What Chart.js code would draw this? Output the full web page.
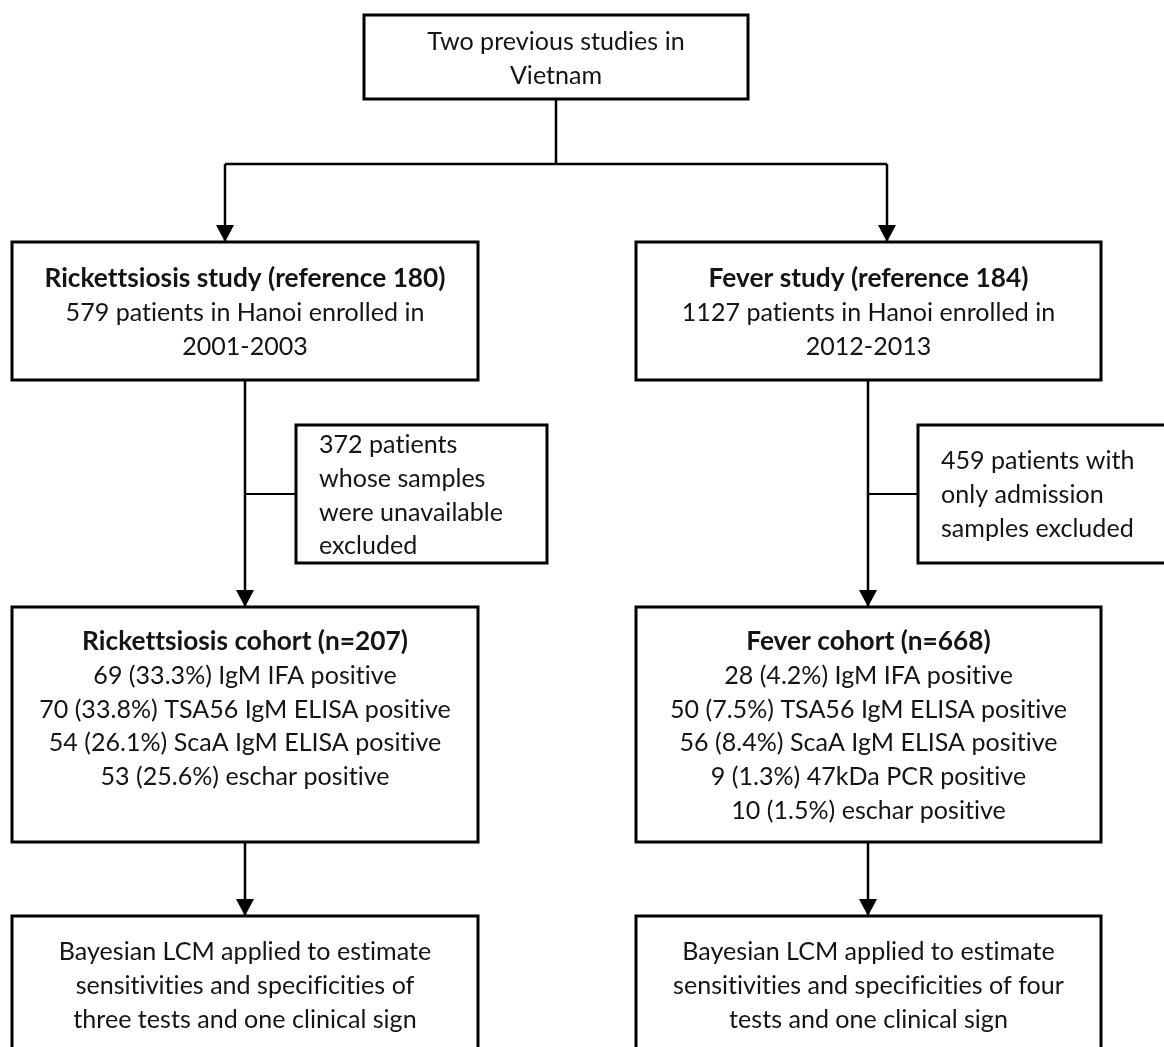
<!DOCTYPE html>
<html>
<head>
<meta charset="utf-8">
<script src="https://cdn.jsdelivr.net/npm/chart.js@4.4.1/dist/chart.umd.min.js"></script>
<style>
  html, body { margin: 0; padding: 0; background: #ffffff; }
  #wrap { width: 1164px; height: 1047px; position: relative; }
</style>
</head>
<body>
<div id="wrap"><canvas id="c" width="1164" height="1047"></canvas></div>
<script>
// ---------------- DATA (flowchart content) ----------------
const boxHeadings = [
  '',
  'Rickettsiosis study (reference 180)',
  'Fever study (reference 184)',
  '',
  '',
  'Rickettsiosis cohort (n=207)',
  'Fever cohort (n=668)',
  '',
  ''
];
const boxBodies = [
  ['Two previous studies in', 'Vietnam'],
  ['579 patients in Hanoi enrolled in', '2001-2003'],
  ['1127 patients in Hanoi enrolled in', '2012-2013'],
  ['372 patients', 'whose samples', 'were unavailable', 'excluded'],
  ['459 patients with', 'only admission', 'samples excluded'],
  ['69 (33.3%) IgM IFA positive', '70 (33.8%) TSA56 IgM ELISA positive', '54 (26.1%) ScaA IgM ELISA positive', '53 (25.6%) eschar positive'],
  ['28 (4.2%) IgM IFA positive', '50 (7.5%) TSA56 IgM ELISA positive', '56 (8.4%) ScaA IgM ELISA positive', '9 (1.3%) 47kDa PCR positive', '10 (1.5%) eschar positive'],
  ['Bayesian LCM applied to estimate', 'sensitivities and specificities of', 'three tests and one clinical sign'],
  ['Bayesian LCM applied to estimate', 'sensitivities and specificities of four', 'tests and one clinical sign']
];

// ---------------- LAYOUT (diagram geometry, in axis units) ----------------
const boxLeft   = [364, 12, 636, 296, 918, 12, 636, 12, 636];
const boxRight  = [748, 478, 1101, 547, 1180, 478, 1101, 478, 1101];
const boxTop    = [15, 242, 242, 425, 425, 607, 607, 916, 916];
const boxBottom = [99, 380, 380, 563, 563, 842, 842, 1070, 1070];
const textAlign = ['center', 'center', 'center', 'left', 'left', 'center', 'center', 'center', 'center'];
const firstLineOffset = [27, 37, 37, 20, 36, 35, 35, 36, 36];
const lineGap = 33.8;
const textIndent = 23;

// connectors: segments [x0,y0]->[x1,y1], arrow flag, width
const connX0 = [556, 225, 225, 887, 245, 245, 868, 868, 245, 868];
const connY0 = [99, 164, 164, 164, 380, 494, 380, 494, 842, 842];
const connX1 = [556, 887, 225, 887, 245, 296, 868, 918, 245, 868];
const connY1 = [164, 164, 242, 242, 607, 494, 607, 494, 916, 916];
const connArrow = [false, false, true, true, true, false, true, false, true, true];
const connWidth = [2.5, 2.5, 2.5, 2.5, 2.5, 2, 2.5, 2, 2.5, 2.5];

// ---------------- BUILD DATASETS ----------------
const datasets = [];
for (let i = 0; i < boxLeft.length; i++) {
  datasets.push({
    data: [
      {x: boxLeft[i], y: boxTop[i]},
      {x: boxRight[i], y: boxTop[i]},
      {x: boxRight[i], y: boxBottom[i]},
      {x: boxLeft[i], y: boxBottom[i]},
      {x: boxLeft[i], y: boxTop[i]}
    ],
    showLine: true, borderColor: '#000', borderWidth: 3, pointRadius: 0,
    fill: false, tension: 0, borderJoinStyle: 'miter', borderCapStyle: 'square'
  });
}
for (let i = 0; i < connX0.length; i++) {
  datasets.push({
    data: [{x: connX0[i], y: connY0[i]}, {x: connX1[i], y: connY1[i]}],
    showLine: true, borderColor: '#000', borderWidth: connWidth[i], pointRadius: 0,
    fill: false, tension: 0, borderCapStyle: 'butt'
  });
}

const BODY_FONT = 'Lato, "Open Sans", sans-serif';
const LS = '0.01px'; // non-zero letter spacing disables Lato's "ti" ligatures
let normalSize = 28, boldSize = 28;
(function fitFonts() {
  const cv = document.createElement('canvas').getContext('2d');
  if ('letterSpacing' in cv) cv.letterSpacing = LS;
  cv.font = '100px ' + BODY_FONT;
  normalSize = 100 * 397 / cv.measureText('50 (7.5%) TSA56 IgM ELISA positive').width;
  cv.font = 'bold 100px ' + BODY_FONT;
  boldSize = 100 * 401 / cv.measureText('Rickettsiosis study (reference 180)').width;
})();

const flowPlugin = {
  id: 'flow',
  afterDatasetsDraw(chart) {
    const ctx = chart.ctx;
    const xs = chart.scales.x, ys = chart.scales.y;
    ctx.save();
    // arrowheads
    ctx.fillStyle = '#000';
    for (let i = 0; i < connX0.length; i++) {
      if (!connArrow[i]) continue;
      const tx = xs.getPixelForValue(connX1[i]);
      const ty = ys.getPixelForValue(connY1[i]);
      const hw = 9, hh = 17;
      ctx.beginPath();
      ctx.moveTo(tx, ty);
      ctx.lineTo(tx - hw, ty - hh);
      ctx.lineTo(tx + hw, ty - hh);
      ctx.closePath();
      ctx.fill();
    }
    // text
    if ('letterSpacing' in ctx) ctx.letterSpacing = LS;
    ctx.fillStyle = '#141414';
    ctx.textBaseline = 'middle';
    for (let i = 0; i < boxLeft.length; i++) {
      const lines = [];
      if (boxHeadings[i]) lines.push({t: boxHeadings[i], b: true});
      boxBodies[i].forEach(t => lines.push({t: t, b: false}));
      lines.forEach((ln, k) => {
        ctx.font = (ln.b ? 'bold ' + boldSize.toFixed(2) : normalSize.toFixed(2)) + 'px ' + BODY_FONT;
        const yv = boxTop[i] + firstLineOffset[i] + k * lineGap;
        let xv;
        if (textAlign[i] === 'left') {
          ctx.textAlign = 'left';
          xv = boxLeft[i] + textIndent;
        } else {
          ctx.textAlign = 'center';
          xv = (boxLeft[i] + boxRight[i]) / 2;
        }
        ctx.fillText(ln.t, xs.getPixelForValue(xv), ys.getPixelForValue(yv));
      });
    }
    if ('letterSpacing' in ctx) ctx.letterSpacing = '0px';
    ctx.restore();
  }
};

new Chart(document.getElementById('c'), {
  type: 'scatter',
  data: { datasets: datasets },
  options: {
    responsive: false,
    animation: false,
    devicePixelRatio: 1,
    layout: { padding: 0 },
    plugins: { legend: { display: false }, tooltip: { enabled: false } },
    scales: {
      x: { type: 'linear', min: 0, max: 1164, display: false },
      y: { type: 'linear', min: 0, max: 1047, reverse: true, display: false }
    }
  },
  plugins: [flowPlugin]
});
</script>
</body>
</html>
